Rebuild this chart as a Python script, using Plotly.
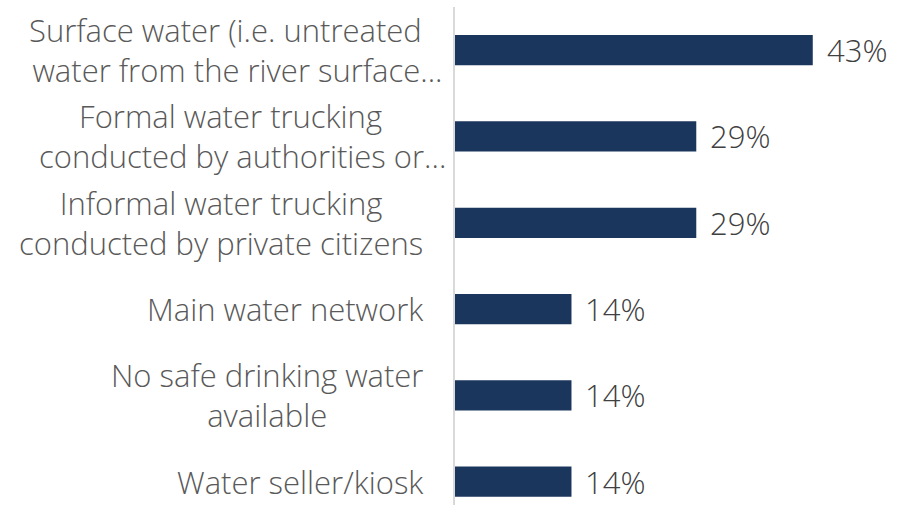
import plotly.graph_objects as go

# Survey results: main source of drinking water (share of respondents, %)
categories = [
    "Surface water (i.e. untreated<br>water from the river surface...",
    "Formal water trucking<br>conducted by authorities or...",
    "Informal water trucking<br>conducted by private citizens",
    "Main water network",
    "No safe drinking water<br>available",
    "Water seller/kiosk",
]
values = [43, 29, 29, 14, 14, 14]
value_labels = [f"{v}%" for v in values]

BAR_COLOR = "#1b365d"
LABEL_COLOR = "#595959"
VALUE_COLOR = "#404040"
FONT = "Open Sans, Arial, sans-serif"
LABEL_SIZE = 31
ELLIPSIS_PAD = "&nbsp;&nbsp;&nbsp;"  # keeps centring based on text without the trailing dots

y_idx = list(range(len(categories)))

fig = go.Figure()
fig.add_trace(
    go.Bar(
        x=values,
        y=y_idx,
        orientation="h",
        marker=dict(color=BAR_COLOR, line=dict(width=0)),
        width=0.35,
        hoverinfo="skip",
    )
)

annotations = []
for i, (cat, v, lab) in enumerate(zip(categories, values, value_labels)):
    lines = cat.split("<br>")
    truncated = lines[-1].endswith("...")
    if truncated:
        lines = [ln if ln.endswith("...") else ln + ELLIPSIS_PAD for ln in lines]
    annotations.append(
        dict(
            x=0, y=i, xref="x", yref="y",
            text="<br>".join(lines),
            xanchor="right", yanchor="middle", align="center",
            xshift=-30 + (23 if truncated else 0),
            showarrow=False,
            font=dict(family=FONT, size=LABEL_SIZE, color=LABEL_COLOR, weight=300),
        )
    )
    annotations.append(
        dict(
            x=v, y=i, xref="x", yref="y",
            text=lab,
            xanchor="left", yanchor="middle",
            xshift=12,
            showarrow=False,
            font=dict(family=FONT, size=LABEL_SIZE, color=VALUE_COLOR, weight=300),
        )
    )

fig.update_layout(
    width=918,
    height=510,
    margin=dict(l=455, r=47, t=7, b=5),
    paper_bgcolor="white",
    plot_bgcolor="white",
    showlegend=False,
    annotations=annotations,
    xaxis=dict(
        range=[0, 50],
        showgrid=False,
        zeroline=False,
        showticklabels=False,
        showline=False,
        fixedrange=True,
    ),
    yaxis=dict(
        range=[5.27, -0.5],
        showgrid=False,
        zeroline=False,
        showticklabels=False,
        showline=True,
        linecolor="#d9d9d9",
        linewidth=2,
        ticks="",
        fixedrange=True,
    ),
)

fig.write_html("out.html", config={"displayModeBar": False})
